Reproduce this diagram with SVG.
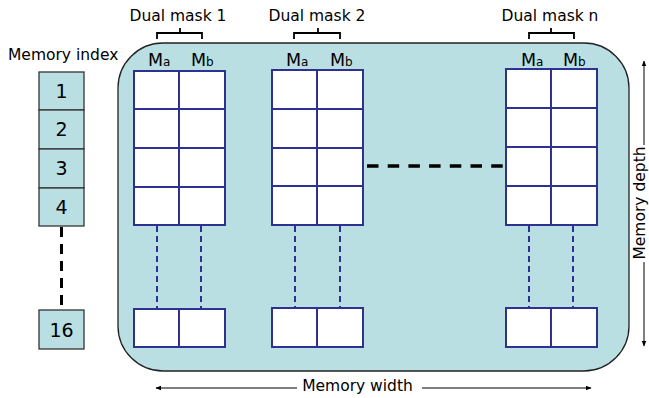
<svg xmlns="http://www.w3.org/2000/svg" width="649" height="398" viewBox="0 0 649 398">
<style>
text{font-family:"DejaVu Sans","Liberation Sans",sans-serif;fill:#000}
.lbl{font-size:15.5px}
.num{font-size:19px;text-anchor:middle}
.m{font-size:17.5px}
.sub{font-size:12px}
.idx{fill:#badfe2;stroke:#333;stroke-width:1.3}
.cell{fill:#fff;stroke:#2e3192;stroke-width:2}
.vd{stroke:#2e3192;stroke-width:2;stroke-dasharray:6 4;fill:none}
.br{fill:none;stroke:#000;stroke-width:1.8}
.ar{stroke:#000;stroke-width:1;fill:none;marker-end:url(#ah)}
</style>
<defs>
<marker id="ah" viewBox="0 0 10 10" refX="9" refY="5" markerWidth="6" markerHeight="6" markerUnits="userSpaceOnUse" orient="auto">
<path d="M0,1 L10,5 L0,9 Z" fill="#000"/>
</marker>
</defs>
<rect id="memory" x="118" y="43" width="511" height="328" rx="45" ry="45" fill="#badfe2" stroke="#222" stroke-width="1.3"/>
<text class="lbl" x="8" y="60">Memory index</text>
<g id="index">
<g id="idx1"><rect class="idx" x="39" y="72" width="45" height="38"/><text class="num" x="61.5" y="98">1</text></g>
<g id="idx2"><rect class="idx" x="39" y="110" width="45" height="39"/><text class="num" x="61.5" y="136">2</text></g>
<g id="idx3"><rect class="idx" x="39" y="149" width="45" height="39"/><text class="num" x="61.5" y="175">3</text></g>
<g id="idx4"><rect class="idx" x="39" y="188" width="45" height="38"/><text class="num" x="61.5" y="214">4</text></g>
<g id="idx16"><rect class="idx" x="39" y="310" width="45" height="39"/><text class="num" x="61.5" y="337">16</text></g>
</g>
<g id="mask1">
<text class="lbl" x="178" y="21" text-anchor="middle">Dual mask 1</text>
<path class="br" d="M157,39 V33 H202 V39 M180,33 V28"/>
<text class="m" x="148" y="66">M<tspan class="sub">a</tspan></text>
<text class="m" x="191" y="66">M<tspan class="sub">b</tspan></text>
<rect class="cell" x="134" y="71" width="45" height="38"/><rect class="cell" x="179" y="71" width="46" height="38"/>
<rect class="cell" x="134" y="109" width="45" height="39"/><rect class="cell" x="179" y="109" width="46" height="39"/>
<rect class="cell" x="134" y="148" width="45" height="39"/><rect class="cell" x="179" y="148" width="46" height="39"/>
<rect class="cell" x="134" y="187" width="45" height="38"/><rect class="cell" x="179" y="187" width="46" height="38"/>
<rect class="cell" x="134" y="309" width="45" height="38"/><rect class="cell" x="179" y="309" width="46" height="38"/>
</g>
<g id="mask2">
<text class="lbl" x="317" y="21" text-anchor="middle">Dual mask 2</text>
<path class="br" d="M294,39 V33 H340 V39 M318,33 V28"/>
<text class="m" x="286" y="66">M<tspan class="sub">a</tspan></text>
<text class="m" x="330" y="66">M<tspan class="sub">b</tspan></text>
<rect class="cell" x="272" y="70" width="45" height="39"/><rect class="cell" x="317" y="70" width="46" height="39"/>
<rect class="cell" x="272" y="109" width="45" height="39"/><rect class="cell" x="317" y="109" width="46" height="39"/>
<rect class="cell" x="272" y="148" width="45" height="38"/><rect class="cell" x="317" y="148" width="46" height="38"/>
<rect class="cell" x="272" y="186" width="45" height="39"/><rect class="cell" x="317" y="186" width="46" height="39"/>
<rect class="cell" x="272" y="308" width="45" height="39"/><rect class="cell" x="317" y="308" width="46" height="39"/>
</g>
<g id="maskn">
<text class="lbl" x="550" y="21" text-anchor="middle">Dual mask n</text>
<path class="br" d="M529,39 V33 H574 V39 M551,33 V28"/>
<text class="m" x="521" y="66">M<tspan class="sub">a</tspan></text>
<text class="m" x="563" y="66">M<tspan class="sub">b</tspan></text>
<rect class="cell" x="506" y="69" width="45" height="39"/><rect class="cell" x="551" y="69" width="46" height="39"/>
<rect class="cell" x="506" y="108" width="45" height="39"/><rect class="cell" x="551" y="108" width="46" height="39"/>
<rect class="cell" x="506" y="147" width="45" height="39"/><rect class="cell" x="551" y="147" width="46" height="39"/>
<rect class="cell" x="506" y="186" width="45" height="39"/><rect class="cell" x="551" y="186" width="46" height="39"/>
<rect class="cell" x="506" y="308" width="45" height="39"/><rect class="cell" x="551" y="308" width="46" height="39"/>
</g>
<g id="connectors">
<line x1="61.5" y1="227" x2="61.5" y2="310" stroke="#000" stroke-width="3" stroke-dasharray="10 7"/>
<line x1="367" y1="166" x2="503" y2="166" stroke="#000" stroke-width="3.5" stroke-dasharray="11.5 9.2"/>
<line class="vd" x1="157" y1="226" x2="157" y2="308"/>
<line class="vd" x1="201" y1="226" x2="201" y2="308"/>
<line class="vd" x1="295" y1="226" x2="295" y2="307"/>
<line class="vd" x1="340" y1="226" x2="340" y2="307"/>
<line class="vd" x1="529" y1="226" x2="529" y2="307"/>
<line class="vd" x1="573" y1="226" x2="573" y2="307"/>
<line class="ar" x1="297" y1="388" x2="156" y2="388"/>
<line class="ar" x1="422" y1="388" x2="591" y2="388"/>
<line class="ar" x1="644" y1="145" x2="644" y2="61"/>
<line class="ar" x1="644" y1="262" x2="644" y2="346"/>
</g>
<text class="lbl" x="357.5" y="391" text-anchor="middle">Memory width</text>
<text class="lbl" transform="translate(645,203) rotate(-90)" text-anchor="middle">Memory depth</text>
</svg>
